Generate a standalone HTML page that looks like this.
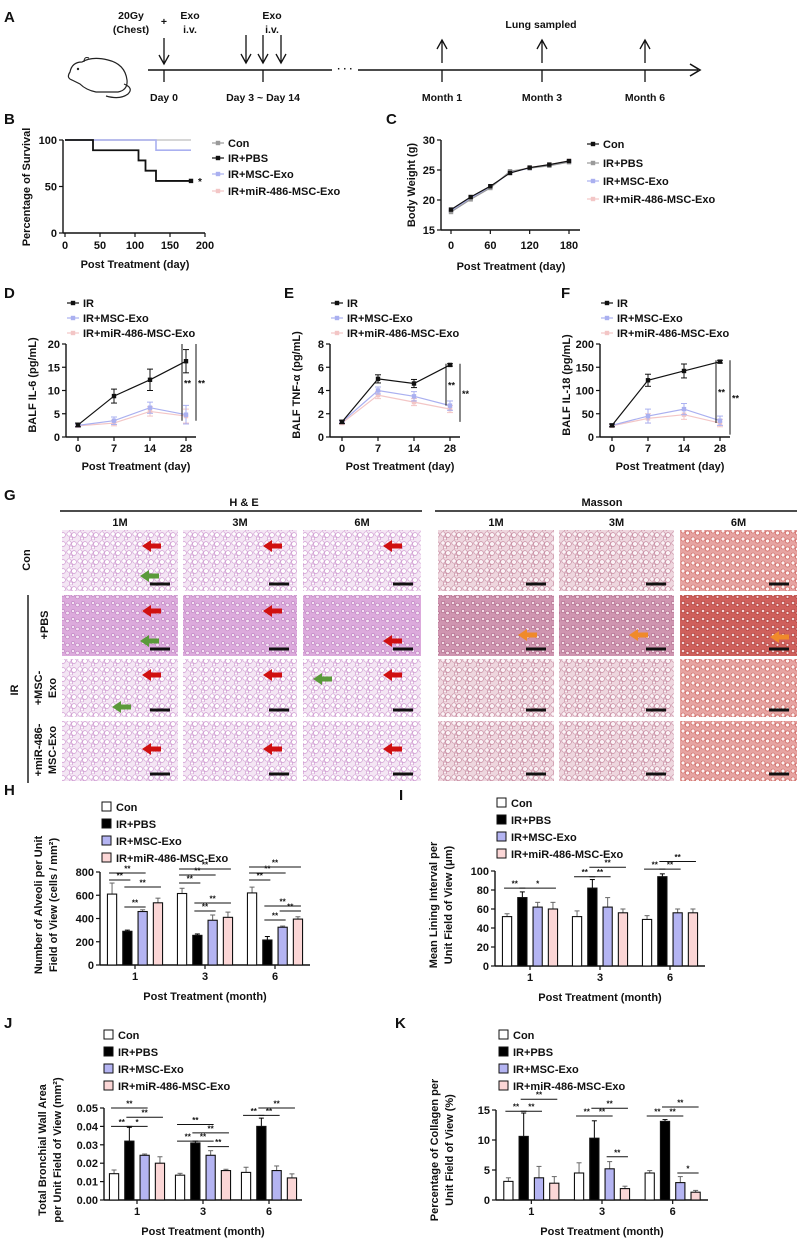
<!DOCTYPE html>
<html><head><meta charset="utf-8">
<style>
html,body{margin:0;padding:0;background:#fff;}
svg{display:block;font-family:"Liberation Sans",Arial,sans-serif;}
text{font-weight:bold;fill:#111;}
</style></head>
<body>
<svg id="fig" width="797" height="1240" viewBox="0 0 797 1240" xmlns="http://www.w3.org/2000/svg">
<defs>
<pattern id="heCon" width="11" height="9" patternUnits="userSpaceOnUse">
<rect width="11" height="9" fill="#f4e6f4"/>
<circle cx="3" cy="3" r="2.2" fill="#fff" stroke="#cf9ad1" stroke-width="0.7"/>
<circle cx="8" cy="4" r="2.4" fill="#fff" stroke="#cf9ad1" stroke-width="0.7"/>
<circle cx="5" cy="7.5" r="1.6" fill="#fff" stroke="#cf9ad1" stroke-width="0.7"/>
</pattern>
<pattern id="hePbs" width="10" height="8" patternUnits="userSpaceOnUse">
<rect width="10" height="8" fill="#dcaadc"/>
<circle cx="3" cy="3" r="1.6" fill="#f4e4f4" stroke="#bb7bbd" stroke-width="0.6"/>
<circle cx="7.5" cy="5" r="1.8" fill="#f4e4f4" stroke="#bb7bbd" stroke-width="0.6"/>
</pattern>
<pattern id="msCon" width="11" height="9" patternUnits="userSpaceOnUse">
<rect width="11" height="9" fill="#eed6de"/>
<circle cx="3" cy="3" r="2.2" fill="#fbf3f6" stroke="#c68aa0" stroke-width="0.7"/>
<circle cx="8" cy="4" r="2.4" fill="#fbf3f6" stroke="#c68aa0" stroke-width="0.7"/>
<circle cx="5" cy="7.5" r="1.6" fill="#fbf3f6" stroke="#c68aa0" stroke-width="0.7"/>
</pattern>
<pattern id="msPbs" width="10" height="8" patternUnits="userSpaceOnUse">
<rect width="10" height="8" fill="#cf95b0"/>
<circle cx="3" cy="3" r="1.7" fill="#f3dde6" stroke="#a85c80" stroke-width="0.6"/>
<circle cx="7.5" cy="5" r="1.8" fill="#f3dde6" stroke="#a85c80" stroke-width="0.6"/>
</pattern>
<pattern id="ms6" width="10" height="8" patternUnits="userSpaceOnUse">
<rect width="10" height="8" fill="#e6a4a2"/>
<circle cx="3" cy="3" r="2" fill="#fdf3f3" stroke="#c8524c" stroke-width="0.6"/>
<circle cx="7.5" cy="5" r="2.1" fill="#fdf3f3" stroke="#c8524c" stroke-width="0.6"/>
</pattern>
<pattern id="ms6p" width="10" height="8" patternUnits="userSpaceOnUse">
<rect width="10" height="8" fill="#cf605c"/>
<circle cx="3" cy="3" r="1.7" fill="#f4d8d8" stroke="#a8302c" stroke-width="0.6"/>
<circle cx="7.5" cy="5" r="1.5" fill="#f4d8d8" stroke="#a8302c" stroke-width="0.6"/>
</pattern>
</defs>
<g id="root"></g>
</svg>
<script>
// ---------------- DATA ----------------
const survDays = [0, 40, 105, 115, 130, 180];
const survPBS = [100, 89, 78, 67, 56, 56];
const survMSCDays = [0, 130, 180];
const survMSC = [100, 89, 89];
const survConDays = [0, 180];
const survCon = [100, 100];
const bwDays = [0, 30, 60, 90, 120, 150, 180];
const bwCon = [18.4, 20.5, 22.3, 24.5, 25.4, 25.9, 26.5];
const bwPBS = [18.0, 20.1, 22.0, 24.8, 25.3, 25.7, 26.3];
const bwMSC = [18.2, 20.3, 22.1, 24.6, 25.3, 25.8, 26.4];
const bwMiR = [18.3, 20.4, 22.2, 24.6, 25.4, 25.9, 26.5];
const cytoDays = ["0", "7", "14", "28"];
const il6IR = [2.6, 8.8, 12.3, 16.3];
const il6IRerr = [0.4, 1.5, 2.3, 2.5];
const il6MSC = [2.5, 3.5, 6.3, 4.8];
const il6MSCerr = [0.3, 0.8, 1.2, 2.0];
const il6MiR = [2.4, 3.0, 5.5, 4.5];
const il6MiRerr = [0.3, 0.6, 1.0, 1.5];
const tnfIR = [1.3, 5.0, 4.6, 6.2];
const tnfIRerr = [0.15, 0.35, 0.35, 0.1];
const tnfMSC = [1.3, 4.0, 3.5, 2.7];
const tnfMSCerr = [0.1, 0.3, 0.4, 0.4];
const tnfMiR = [1.2, 3.6, 3.0, 2.4];
const tnfMiRerr = [0.1, 0.3, 0.3, 0.3];
const il18IR = [25, 122, 142, 162];
const il18IRerr = [3, 13, 15, 3];
const il18MSC = [25, 45, 60, 35];
const il18MSCerr = [3, 15, 12, 10];
const il18MiR = [24, 40, 48, 30];
const il18MiRerr = [3, 10, 10, 8];
const months = ["1", "3", "6"];
const groupNames = ["Con", "IR+PBS", "IR+MSC-Exo", "IR+miR-486-MSC-Exo"];
const hCon = [610, 615, 620], hPBS = [290, 255, 215], hMSC = [460, 385, 325], hMiR = [535, 410, 395];
const hConE = [95, 45, 50], hPBSE = [10, 12, 30], hMSCE = [15, 45, 10], hMiRE = [40, 45, 20];
const hTicks = [0, 200, 400, 600, 800];
const iCon = [52, 52, 49], iPBS = [72, 82, 94], iMSC = [62, 62, 56], iMiR = [60, 56, 56];
const iConE = [3, 6, 4], iPBSE = [6, 9, 3], iMSCE = [5, 10, 4], iMiRE = [7, 4, 4];
const iTicks = [0, 20, 40, 60, 80, 100];
const jCon = [0.0143, 0.0135, 0.015], jPBS = [0.032, 0.031, 0.040], jMSC = [0.0243, 0.0243, 0.016], jMiR = [0.020, 0.016, 0.012];
const jConE = [0.002, 0.001, 0.0028], jPBSE = [0.0075, 0.001, 0.0045], jMSCE = [0.0007, 0.0025, 0.0025], jMiRE = [0.0035, 0.0007, 0.0022];
const jTicks = [0, 0.01, 0.02, 0.03, 0.04, 0.05];
const kCon = [3.1, 4.5, 4.5], kPBS = [10.6, 10.3, 13.1], kMSC = [3.7, 5.2, 2.9], kMiR = [2.8, 1.9, 1.3];
const kConE = [0.6, 1.7, 0.4], kPBSE = [3.9, 2.9, 0.3], kMSCE = [1.9, 1.2, 1.0], kMiRE = [1.1, 0.4, 0.3];
const kTicks = [0, 5, 10, 15];
const hSig = [[0,0,1,731,"**"],[0,0,2,791,"**"],[0,1,3,671,"**"],[0,1,2,499,"**"],[1,0,1,705,"**"],[1,0,2,774,"**"],[1,0,3,826,"**"],[1,1,2,465,"**"],[1,1,3,533,"**"],[2,0,1,731,"**"],[2,0,2,791,"**"],[2,0,3,843,"**"],[2,1,2,387,"**"],[2,1,3,508,"**"],[2,2,3,465,"**"]];
const iSig = [[0,0,1,82,"**"],[0,1,3,82,"*"],[1,0,1,94,"**"],[1,1,2,94,"**"],[1,1,3,104,"**"],[2,0,1,102,"**"],[2,1,2,102,"**"],[2,1,3,110,"**"]];
const jSig = [[0,0,2,0.050,"**"],[0,1,3,0.045,"**"],[0,0,1,0.040,"**"],[0,1,2,0.040,"*"],[1,0,2,0.041,"**"],[1,1,3,0.0365,"**"],[1,0,1,0.032,"**"],[1,1,2,0.032,"**"],[1,2,3,0.029,"**"],[2,0,1,0.046,"**"],[2,1,2,0.046,"**"],[2,1,3,0.050,"**"]];
const kSig = [[0,0,1,14.8,"**"],[0,1,2,14.8,"**"],[0,1,3,16.8,"**"],[1,0,1,14,"**"],[1,1,2,14,"**"],[1,1,3,15.3,"**"],[1,2,3,7.2,"**"],[2,0,1,14,"**"],[2,1,2,14,"**"],[2,1,3,15.5,"**"],[2,2,3,4.5,"*"]];

// ---------------- HELPERS ----------------
const NS = "http://www.w3.org/2000/svg";
const root = document.getElementById("root");
function mk(tag, attrs, name, parent) {
  const el = document.createElementNS(NS, tag);
  for (const k in attrs) el.setAttribute(k, attrs[k]);
  
  
  (parent || root).appendChild(el);
  return el;
}
function txt(x, y, s, name, size, anchor, extra) {
  const a = Object.assign({x: x, y: y, "font-size": size || 11, "text-anchor": anchor || "start"}, extra || {});
  const el = mk("text", a, name);
  el.textContent = s;
  return el;
}
function ln(x1, y1, x2, y2, name, w, col) {
  return mk("line", {x1: x1, y1: y1, x2: x2, y2: y2, stroke: col || "#111", "stroke-width": w || 1.3}, name);
}
function rtxt(x, y, s, name, size) {
  return txt(x, y, s, name, size || 11, "middle", {transform: "rotate(-90 " + x + " " + y + ")"});
}
function arrowDown(x, y1, y2, name) {
  ln(x, y1, x, y2, name, 1.3);
  mk("path", {d: "M" + (x - 5) + " " + (y2 - 9) + " L" + x + " " + y2 + " L" + (x + 5) + " " + (y2 - 9), fill: "none", stroke: "#111", "stroke-width": 1.3}, name + "-head");
}
function arrowUp(x, y1, y2, name) {
  ln(x, y1, x, y2, name, 1.3);
  mk("path", {d: "M" + (x - 5) + " " + (y2 + 9) + " L" + x + " " + y2 + " L" + (x + 5) + " " + (y2 + 9), fill: "none", stroke: "#111", "stroke-width": 1.3}, name + "-head");
}

// ---------------- PANEL A ----------------
txt(4, 22, "A", "panel-label-a", 15, "start", {"font-weight": "normal"});
ln(148, 70, 332, 70, "timeline-axis-left", 1.6);
ln(358, 70, 698, 70, "timeline-axis-right", 1.6);
txt(345, 72, "· · ·", "timeline-break", 10, "middle");
mk("path", {d: "M690 64 L700 70 L690 76", fill: "none", stroke: "#111", "stroke-width": 1.6}, "timeline-arrowhead");
[[164, "Day 0"], [263, "Day 3 ~ Day 14"], [442, "Month 1"], [542, "Month 3"], [645, "Month 6"]].forEach(function (d, i) {
  ln(d[0], 70, d[0], 82, "timeline-tick");
  txt(d[0], 101, d[1], "timeline-label", 10.5, "middle");
});
arrowDown(164, 38, 64, "day0-arrow");
arrowDown(246, 35, 63, "exo-arrow-1");
arrowDown(263, 35, 63, "exo-arrow-2");
arrowDown(281, 35, 63, "exo-arrow-3");
arrowUp(442, 63, 40, "month1-arrow");
arrowUp(542, 63, 40, "month3-arrow");
arrowUp(645, 63, 40, "month6-arrow");
txt(131, 19, "20Gy", "dose-label", 10.5, "middle");
txt(131, 33, "(Chest)", "dose-label-chest", 10.5, "middle");
txt(164, 25, "+", "plus-label", 10.5, "middle");
txt(190, 19, "Exo", "exo-label", 10.5, "middle");
txt(190, 33, "i.v.", "iv-label", 10.5, "middle");
txt(272, 19, "Exo", "exo-label-2", 10.5, "middle");
txt(272, 33, "i.v.", "iv-label-2", 10.5, "middle");
txt(541, 28, "Lung sampled", "lung-sampled-label", 10.5, "middle");
mk("path", {d: "M70 72 Q72 62 82 62 Q92 56 108 60 Q125 64 127 80 Q128 90 118 92 L96 92 Q86 90 80 84 L72 80 Q66 78 70 72 Z", fill: "#fff", stroke: "#222", "stroke-width": 1.2}, "mouse-icon");
mk("path", {d: "M124 84 Q134 88 128 94 Q120 100 106 96", fill: "none", stroke: "#222", "stroke-width": 1.2}, "mouse-tail");
mk("circle", {cx: 78, cy: 69, r: 1.2, fill: "#222"}, "mouse-eye");
mk("path", {d: "M84 62 Q84 56 89 58", fill: "none", stroke: "#222", "stroke-width": 1}, "mouse-ear");

// ---------------- LINE PANELS ----------------
function axisY(x, yTop, yBot, ticks, v2y, fmt, name) {
  ln(x, yTop, x, yBot, name + "-y-axis", 1.4);
  ticks.forEach(function (t) {
    const y = v2y(t);
    ln(x - 4, y, x, y, name + "-y-tick", 1.2);
    txt(x - 6, y + 4, fmt ? fmt(t) : String(t), name + "-y-tick-label", 11, "end");
  });
}
function marker(x, y, col, name) {
  return mk("rect", {x: x - 2.2, y: y - 2.2, width: 4.4, height: 4.4, fill: col}, name);
}
function series(xs, ys, errs, xf, yf, col, name) {
  const pts = xs.map(function (d, i) { return xf(d, i) + "," + yf(ys[i]); }).join(" ");
  mk("polyline", {points: pts, fill: "none", stroke: col, "stroke-width": 1.2}, name + "-line");
  ys.forEach(function (v, i) {
    const x = xf(xs[i], i);
    if (errs) {
      ln(x, yf(v - errs[i]), x, yf(v + errs[i]), name + "-error-bar", 1, col);
      ln(x - 3, yf(v + errs[i]), x + 3, yf(v + errs[i]), name + "-error-cap", 1, col);
      ln(x - 3, yf(v - errs[i]), x + 3, yf(v - errs[i]), name + "-error-cap", 1, col);
    }
    marker(x, yf(v), col, name + "-point");
  });
}
function legendLine(x, y, col, label, name) {
  ln(x - 6, y, x + 6, y, name + "-swatch-line", 1.2, col);
  marker(x, y, col, name + "-swatch");
  txt(x + 10, y + 4, label, name, 11);
}
const CBLACK = "#111", CGRAY = "#9a9a9a", CBLUE = "#aab0f0", CPINK = "#f3c6c6";

txt(4, 124, "B", "panel-label-b", 15, "start", {"font-weight": "normal"});
(function () {
  const xs = function (d) { return 65 + d / 200 * 140; };
  const ys = function (v) { return 233 - v / 100 * 93; };
  axisY(63, 140, 233, [0, 50, 100], ys, null, "survival");
  ln(63, 233, 205, 233, "survival-x-axis", 1.4);
  [0, 50, 100, 150, 200].forEach(function (t) {
    ln(xs(t), 233, xs(t), 237, "survival-x-tick", 1.2);
    txt(xs(t), 249, String(t), "survival-x-tick-label", 11, "middle");
  });
  function step(days, vals, col, name, w) {
    let d = "M" + xs(days[0]) + " " + ys(vals[0]);
    for (let i = 1; i < days.length; i++) d += " H" + xs(days[i]) + " V" + ys(vals[i]);
    mk("path", {d: d, fill: "none", stroke: col, "stroke-width": w}, name);
  }
  step(survConDays, survCon, "#c8c8c8", "survival-con-line", 1.6);
  step(survMSCDays, survMSC, CBLUE, "survival-msc-line", 1.6);
  step(survDays, survPBS, CBLACK, "survival-pbs-line", 1.8);
  marker(xs(180), ys(survPBS[survPBS.length - 1]), CBLACK, "survival-pbs-end");
  txt(xs(180) + 7, ys(survPBS[survPBS.length - 1]) + 4, "*", "survival-significance", 10);
  rtxt(30, 187, "Percentage of Survival", "survival-y-title", 11);
  txt(135, 268, "Post Treatment (day)", "survival-x-title", 11, "middle");
  legendLine(218, 143, CGRAY, "Con", "legend-survival-con");
  legendLine(218, 158, CBLACK, "IR+PBS", "legend-survival-pbs");
  legendLine(218, 174, CBLUE, "IR+MSC-Exo", "legend-survival-msc");
  legendLine(218, 191, CPINK, "IR+miR-486-MSC-Exo", "legend-survival-mir");
})();

txt(386, 124, "C", "panel-label-c", 15, "start", {"font-weight": "normal"});
(function () {
  const xs = function (d) { return 451 + d / 180 * 118; };
  const ys = function (v) { return 230 - (v - 15) * 6; };
  axisY(441, 140, 230, [15, 20, 25, 30], ys, null, "weight");
  ln(441, 230, 580, 230, "weight-x-axis", 1.4);
  [0, 60, 120, 180].forEach(function (t) {
    ln(xs(t), 230, xs(t), 234, "weight-x-tick", 1.2);
    txt(xs(t), 249, String(t), "weight-x-tick-label", 11, "middle");
  });
  series(bwDays, bwMiR, null, xs, ys, CPINK, "weight-mir");
  series(bwDays, bwMSC, null, xs, ys, CBLUE, "weight-msc");
  series(bwDays, bwPBS, null, xs, ys, CGRAY, "weight-pbs");
  series(bwDays, bwCon, null, xs, ys, CBLACK, "weight-con");
  rtxt(415, 185, "Body Weight (g)", "weight-y-title", 11);
  txt(511, 270, "Post Treatment (day)", "weight-x-title", 11, "middle");
  legendLine(593, 144, CBLACK, "Con", "legend-weight-con");
  legendLine(593, 163, CGRAY, "IR+PBS", "legend-weight-pbs");
  legendLine(593, 181, CBLUE, "IR+MSC-Exo", "legend-weight-msc");
  legendLine(593, 199, CPINK, "IR+miR-486-MSC-Exo", "legend-weight-mir");
})();

function cytoPanel(o) {
  txt(o.lx, 298, o.letter, "panel-label-" + o.letter.toLowerCase(), 15, "start", {"font-weight": "normal"});
  const yTop = 344, yBot = 437;
  const ys = function (v) { return yBot - v / o.max * (yBot - yTop); };
  const xs = function (d, i) { return o.x0 + 12 + i * 36; };
  axisY(o.x0, yTop, yBot, o.ticks, ys, null, o.id);
  ln(o.x0, yBot, o.x0 + 130, yBot, o.id + "-x-axis", 1.4);
  cytoDays.forEach(function (d, i) {
    ln(xs(d, i), yBot, xs(d, i), yBot + 4, o.id + "-x-tick", 1.2);
    txt(xs(d, i), yBot + 15, d, o.id + "-x-tick-label", 11, "middle");
  });
  series(cytoDays, o.mir, o.mirE, xs, ys, CPINK, o.id + "-mir");
  series(cytoDays, o.msc, o.mscE, xs, ys, CBLUE, o.id + "-msc");
  series(cytoDays, o.ir, o.irE, xs, ys, CBLACK, o.id + "-ir");
  o.sig.forEach(function (s, k) {
    const x = o.x0 + 116 + k * 14;
    ln(x, ys(s[0]), x, ys(s[1]), o.id + "-significance-line", 1);
    txt(x + 2, (ys(s[0]) + ys(s[1])) / 2 + 4, "**", o.id + "-significance-label", 9);
  });
  rtxt(o.x0 - 30, 385, o.ytitle, o.id + "-y-title", 11);
  txt(o.x0 + 70, 470, "Post Treatment (day)", o.id + "-x-title", 11, "middle");
  legendLine(o.x0 + 7, 303, CBLACK, "IR", "legend-" + o.id + "-ir");
  legendLine(o.x0 + 7, 318, CBLUE, "IR+MSC-Exo", "legend-" + o.id + "-msc");
  legendLine(o.x0 + 7, 333, CPINK, "IR+miR-486-MSC-Exo", "legend-" + o.id + "-mir");
}
cytoPanel({letter: "D", lx: 4, id: "il6", x0: 66, max: 20, ticks: [0, 5, 10, 15, 20], ir: il6IR, irE: il6IRerr, msc: il6MSC, mscE: il6MSCerr, mir: il6MiR, mirE: il6MiRerr, sig: [[20, 3.5], [20, 3.5]], ytitle: "BALF IL-6 (pg/mL)"});
cytoPanel({letter: "E", lx: 284, id: "tnf", x0: 330, max: 8, ticks: [0, 2, 4, 6, 8], ir: tnfIR, irE: tnfIRerr, msc: tnfMSC, mscE: tnfMSCerr, mir: tnfMiR, mirE: tnfMiRerr, sig: [[6.3, 2.7], [6.3, 1.3]], ytitle: "BALF TNF-α (pg/mL)"});
cytoPanel({letter: "F", lx: 561, id: "il18", x0: 600, max: 200, ticks: [0, 50, 100, 150, 200], ir: il18IR, irE: il18IRerr, msc: il18MSC, mscE: il18MSCerr, mir: il18MiR, mirE: il18MiRerr, sig: [[165, 30], [165, 5]], ytitle: "BALF IL-18 (pg/mL)"});

// ---------------- PANEL G ----------------
txt(4, 500, "G", "panel-label-g", 15, "start", {"font-weight": "normal"});
txt(244, 506, "H & E", "he-header", 11, "middle");
ln(60, 511, 422, 511, "he-header-rule", 1.4);
txt(602, 506, "Masson", "masson-header", 11, "middle");
ln(435, 511, 797, 511, "masson-header-rule", 1.4);
const colX = [62, 183, 303, 438, 559, 680];
const colW = [116, 114, 118, 116, 115, 117];
const rowY = [530, 595, 659, 721];
const rowH = [61, 61, 58, 60];
const colLbl = ["1M", "3M", "6M", "1M", "3M", "6M"];
colX.forEach(function (x, c) { txt(x + colW[c] / 2, 526, colLbl[c], "column-label-" + colLbl[c], 11, "middle"); });
const fills = [
  ["url(#heCon)", "url(#heCon)", "url(#heCon)", "url(#msCon)", "url(#msCon)", "url(#ms6)"],
  ["url(#hePbs)", "url(#hePbs)", "url(#hePbs)", "url(#msPbs)", "url(#msPbs)", "url(#ms6p)"],
  ["url(#heCon)", "url(#heCon)", "url(#heCon)", "url(#msCon)", "url(#msCon)", "url(#ms6)"],
  ["url(#heCon)", "url(#heCon)", "url(#heCon)", "url(#msCon)", "url(#msCon)", "url(#ms6)"]
];
rowY.forEach(function (y, r) {
  colX.forEach(function (x, c) {
    mk("rect", {x: x, y: y, width: colW[c], height: rowH[r], fill: fills[r][c]}, "histology-image");
    ln(x + colW[c] - 28, y + rowH[r] - 7, x + colW[c] - 8, y + rowH[r] - 7, "scale-bar", 3);
  });
});
function redArrow(x, y, col, name) {
  mk("path", {d: "M" + x + " " + y + " l9 -6 v3.5 h10 v5 h-10 v3.5 z", fill: col}, name);
}
[[0,0,0],[0,1,0],[0,2,0],[1,0,0],[1,1,0],[2,0,0],[2,1,0],[2,2,0],[3,0,0],[3,1,0],[3,2,0]].forEach(function (a) {
  redArrow(colX[a[1]] + 80, rowY[a[0]] + 16 + (a[0] === 3 ? 12 : 0), "#d01010", "red-arrow");
});
redArrow(colX[2] + 80, rowY[1] + 46, "#d01010", "red-arrow");
redArrow(colX[0] + 78, rowY[0] + 46, "#5a9a3a", "green-arrow");
redArrow(colX[0] + 78, rowY[1] + 46, "#5a9a3a", "green-arrow");
redArrow(colX[0] + 50, rowY[2] + 48, "#5a9a3a", "green-arrow");
redArrow(colX[2] + 10, rowY[2] + 20, "#5a9a3a", "green-arrow");
redArrow(colX[3] + 80, rowY[1] + 40, "#f08a2a", "orange-arrow");
redArrow(colX[4] + 70, rowY[1] + 40, "#f08a2a", "orange-arrow");
redArrow(colX[5] + 90, rowY[1] + 42, "#f08a2a", "orange-arrow");
rtxt(30, 560, "Con", "row-label-con", 11);
rtxt(48, 625, "+PBS", "row-label-pbs", 11);
rtxt(42, 688, "+MSC-", "row-label-msc-1", 11);
rtxt(56, 688, "Exo", "row-label-msc-2", 11);
rtxt(42, 750, "+miR-486-", "row-label-mir-1", 11);
rtxt(56, 750, "MSC-Exo", "row-label-mir-2", 11);
ln(28, 595, 28, 783, "ir-bracket", 1.4);
rtxt(18, 690, "IR", "row-label-ir", 11);

// ---------------- BAR PANELS ----------------
const barFill = ["#ffffff", "#000000", "#b4b4f2", "#fbd6d6"];
function barPanel(o) {
  txt(o.lx, o.ly, o.letter, "panel-label-" + o.letter.toLowerCase(), 15, "start", {"font-weight": "normal"});
  const ys = function (v) { return o.yBot - v / o.max * (o.yBot - o.yTop); };
  const step = (o.xR - o.x0) / months.length;
  const gx = function (g) { return o.x0 + (g + 0.5) * step; };
  const bx = function (g, i) { return gx(g) + (i - 1.5) * 15.3; };
  axisY(o.x0, o.yTop, o.yBot, o.ticks, ys, o.fmt, o.id);
  ln(o.x0, o.yBot, o.xR, o.yBot, o.id + "-x-axis", 1.6);
  months.forEach(function (m, g) {
    ln(gx(g), o.yBot, gx(g), o.yBot + 4, o.id + "-x-tick", 1.2);
    txt(gx(g), o.yBot + 15, m, o.id + "-x-tick-label", 11, "middle");
  });
  const vals = [o.con, o.pbs, o.msc, o.mir], errs = [o.conE, o.pbsE, o.mscE, o.mirE];
  const keys = ["con", "pbs", "msc", "mir"];
  vals.forEach(function (arr, i) {
    arr.forEach(function (v, g) {
      const x = bx(g, i), e = errs[i][g];
      ln(x, ys(v), x, ys(v + e), o.id + "-error-bar", 1, i === 1 ? "#000" : "#666");
      ln(x - 2.5, ys(v + e), x + 2.5, ys(v + e), o.id + "-error-cap", 1, i === 1 ? "#000" : "#666");
      mk("rect", {x: x - 4.6, y: ys(v), width: 9.2, height: o.yBot - ys(v), fill: barFill[i], stroke: "#111", "stroke-width": 1.1}, o.id + "-bar-" + keys[i] + "-m" + months[g]);
    });
  });
  o.sig.forEach(function (s) {
    const x1 = bx(s[0], s[1]) - 3, x2 = bx(s[0], s[2]) + 3, y = ys(s[3]);
    ln(x1, y, x2, y, o.id + "-significance-line", 1);
    txt((x1 + x2) / 2, y - 1.5, s[4], o.id + "-significance-label", 8, "middle", {"font-weight": "normal"});
  });
  o.ytitle.forEach(function (t, k) { rtxt(o.x0 - 58 + k * 15, o.ytc, t, o.id + "-y-title", 11); });
  txt((o.x0 + o.xR) / 2, o.yBot + 35, "Post Treatment (month)", o.id + "-x-title", 11, "middle");
  groupNames.forEach(function (n, i) {
    const y = o.legY + i * 17;
    mk("rect", {x: o.legX, y: y - 5, width: 9, height: 9, fill: barFill[i], stroke: "#111", "stroke-width": 1}, "legend-" + o.id + "-" + keys[i] + "-swatch");
    txt(o.legX + 14, y + 4, n, "legend-" + o.id + "-" + keys[i], 11);
  });
}
barPanel({letter: "H", lx: 4, ly: 795, id: "alveoli", x0: 100, xR: 310, yTop: 872, yBot: 965, max: 800, ticks: hTicks, con: hCon, pbs: hPBS, msc: hMSC, mir: hMiR, conE: hConE, pbsE: hPBSE, mscE: hMSCE, mirE: hMiRE, sig: hSig, ytitle: ["Number of Alveoli per Unit", "Field  of View (cells / mm²)"], ytc: 905, legX: 102, legY: 807});
barPanel({letter: "I", lx: 399, ly: 800, id: "lining", x0: 495, xR: 705, yTop: 871, yBot: 966, max: 100, ticks: iTicks, con: iCon, pbs: iPBS, msc: iMSC, mir: iMiR, conE: iConE, pbsE: iPBSE, mscE: iMSCE, mirE: iMiRE, sig: iSig, ytitle: ["Mean Lining Interval per", "Unit Field of View (μm)"], ytc: 905, legX: 497, legY: 803});
barPanel({letter: "J", lx: 4, ly: 1028, id: "bronchial", x0: 104, xR: 302, yTop: 1108, yBot: 1200, max: 0.05, ticks: jTicks, fmt: function (t) { return t.toFixed(2); }, con: jCon, pbs: jPBS, msc: jMSC, mir: jMiR, conE: jConE, pbsE: jPBSE, mscE: jMSCE, mirE: jMiRE, sig: jSig, ytitle: ["Total Bronchial Wall Area", "per Unit Field of View (mm²)"], ytc: 1150, legX: 104, legY: 1035});
barPanel({letter: "K", lx: 395, ly: 1028, id: "collagen", x0: 496, xR: 708, yTop: 1110, yBot: 1200, max: 15, ticks: kTicks, con: kCon, pbs: kPBS, msc: kMSC, mir: kMiR, conE: kConE, pbsE: kPBSE, mscE: kMSCE, mirE: kMiRE, sig: kSig, ytitle: ["Percentage of Collagen per", "Unit Field of View (%)"], ytc: 1150, legX: 499, legY: 1035});
</script>
</body></html>
